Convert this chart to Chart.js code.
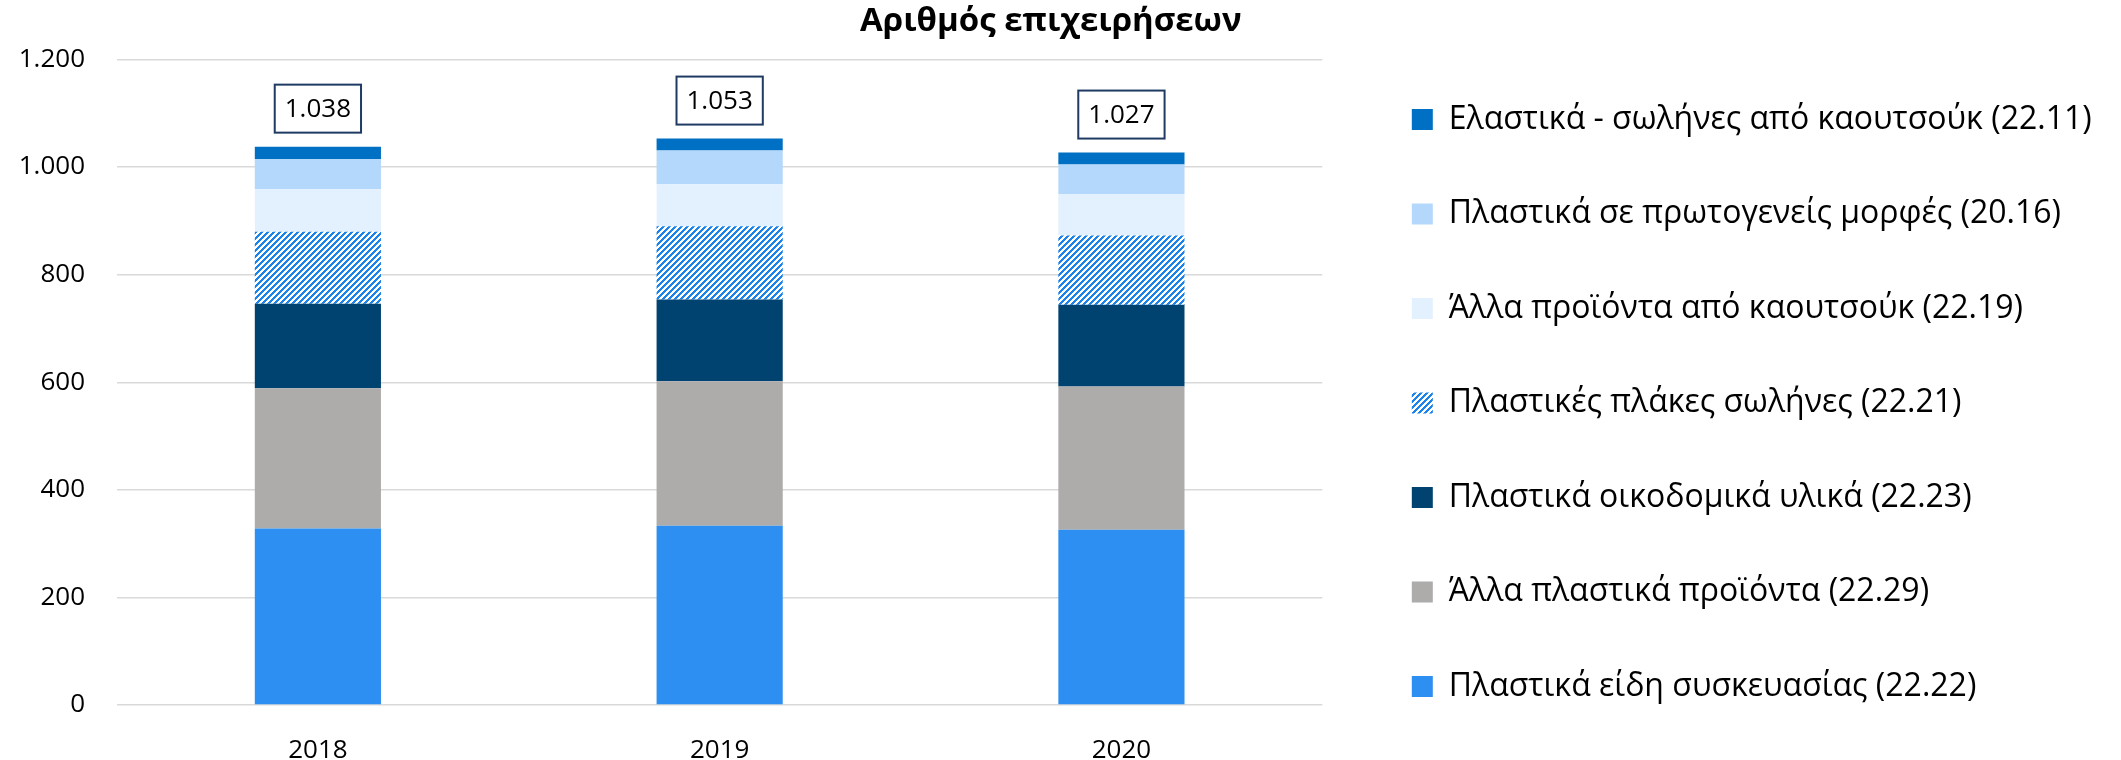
<!DOCTYPE html>
<html>
<head>
<meta charset="utf-8">
<script src="https://cdn.jsdelivr.net/npm/chart.js@4.4.0/dist/chart.umd.min.js"></script>
<style>
  html, body { margin: 0; padding: 0; background: #fff; }
  #wrap { width: 2121px; height: 760px; position: relative; }
</style>
</head>
<body>
<div id="wrap"><canvas id="firmsChart"></canvas></div>
<script>
// Αριθμός επιχειρήσεων ανά κλάδο (stacked, bottom -> top)
const years = ['2018', '2019', '2020'];

const packaging     = [328, 333, 326]; // 22.22
const otherPlastics = [261, 269, 266]; // 22.29
const building      = [157, 152, 152]; // 22.23
const plates        = [134, 136, 129]; // 22.21
const otherRubber   = [79, 78, 77];    // 22.19
const primaryForms  = [56, 63, 55];    // 20.16
const rubberTubes   = [23, 22, 22];    // 22.11

const yTicks = [0, 200, 400, 600, 800, 1000, 1200];

const FONT = '"Open Sans", "Noto Sans", sans-serif';

// thousands separator with a dot
function fmt(v) {
    return String(v).replace(/\B(?=(\d{3})+(?!\d))/g, '.');
}

// "/" hatch for 22.21
function makeHatch() {
    const c = document.createElement('canvas');
    c.width = 6; c.height = 6;
    const g = c.getContext('2d');
    g.fillStyle = '#ffffff';
    g.fillRect(0, 0, 6, 6);
    g.fillStyle = '#1A84EC';
    for (let x = 0; x < 6; x++) {
        for (let y = 0; y < 6; y++) {
            if ((x + y) % 6 < 3) g.fillRect(x, y, 1, 1);
        }
    }
    return g.createPattern(c, 'repeat');
}

// boxed totals above each bar
const totalBoxes = {
    id: 'totalBoxes',
    afterDatasetsDraw(chart) {
        const {ctx, scales: {x, y}} = chart;
        const series = chart.data.datasets.map(d => d.data);
        ctx.save();
        ctx.font = '26px ' + FONT;
        ctx.textAlign = 'center';
        ctx.textBaseline = 'middle';
        years.forEach((yr, i) => {
            const total = series.reduce((s, d) => s + d[i], 0);
            const cx = x.getPixelForValue(i);
            const top = y.getPixelForValue(total);
            const txt = fmt(total);
            const w = ctx.measureText(txt).width + 20;
            const h = 48;
            const bx = cx - w / 2, by = top - 14 - h;
            ctx.fillStyle = '#ffffff';
            ctx.fillRect(bx, by, w, h);
            ctx.strokeStyle = '#1F3B63';
            ctx.lineWidth = 2;
            ctx.strokeRect(bx, by, w, h);
            ctx.fillStyle = '#000000';
            ctx.fillText(txt, cx, by + h / 2 + 1);
        });
        ctx.restore();
    }
};

document.addEventListener('DOMContentLoaded', function () {
    const ctx = document.getElementById('firmsChart').getContext('2d');
    new Chart(ctx, {
        type: 'bar',
        data: {
            labels: years,
            datasets: [
                { label: 'Πλαστικά είδη συσκευασίας (22.22)', data: packaging, backgroundColor: '#2D8FF2' },
                { label: 'Άλλα πλαστικά προϊόντα (22.29)', data: otherPlastics, backgroundColor: '#AEABAB' },
                { label: 'Πλαστικά οικοδομικά υλικά (22.23)', data: building, backgroundColor: '#004270' },
                { label: 'Πλαστικές πλάκες σωλήνες (22.21)', data: plates, backgroundColor: makeHatch() },
                { label: 'Άλλα προϊόντα από καουτσούκ (22.19)', data: otherRubber, backgroundColor: '#E3F0FD' },
                { label: 'Πλαστικά σε πρωτογενείς μορφές (20.16)', data: primaryForms, backgroundColor: '#B4D8FB' },
                { label: 'Ελαστικά - σωλήνες από καουτσούκ (22.11)', data: rubberTubes, backgroundColor: '#0070C4' }
            ].map(d => Object.assign(d, {
                borderWidth: 0,
                barPercentage: 0.314,
                categoryPercentage: 1.0
            }))
        },
        options: {
            responsive: true,
            maintainAspectRatio: false,
            animation: false,
            // negative bottom padding pushes the legend down a bit; x axis height compensates
            layout: { padding: { left: 0, right: 19.3, top: 0, bottom: -5 } },
            plugins: {
                title: {
                    display: true,
                    text: 'Αριθμός επιχειρήσεων',
                    color: '#000000',
                    font: { family: FONT, size: 33, weight: 'bold', lineHeight: 1.2 },
                    padding: { top: 1.4, bottom: 18.5 }
                },
                legend: {
                    position: 'right',
                    align: 'end',
                    reverse: true,
                    maxWidth: 753,
                    labels: {
                        color: '#000000',
                        font: { family: FONT, size: 32 },
                        boxWidth: 21,
                        boxHeight: 21,
                        padding: 62.5
                    }
                },
                tooltip: { enabled: false }
            },
            scales: {
                x: {
                    stacked: true,
                    grid: { display: false },
                    border: { display: false },
                    ticks: {
                        color: '#000000',
                        font: { family: FONT, size: 26 },
                        padding: 22
                    },
                    afterFit: s => { s.height = 60; }
                },
                y: {
                    stacked: true,
                    min: 0,
                    max: 1200,
                    afterBuildTicks: s => { s.ticks = yTicks.map(v => ({ value: v })); },
                    grid: { color: '#D9D9D9', lineWidth: 1.5, drawTicks: false },
                    border: { display: false },
                    ticks: {
                        color: '#000000',
                        font: { family: FONT, size: 26 },
                        padding: 32,
                        callback: v => fmt(v)
                    },
                    afterFit: s => { s.width = 117; }
                },
                // spacer between the plot and the legend
                gap: {
                    type: 'linear',
                    position: 'right',
                    grid: { display: false },
                    border: { display: false },
                    ticks: { display: false },
                    afterFit: s => { s.width = 27; }
                }
            }
        },
        plugins: [totalBoxes]
    });
});
</script>
</body>
</html>
